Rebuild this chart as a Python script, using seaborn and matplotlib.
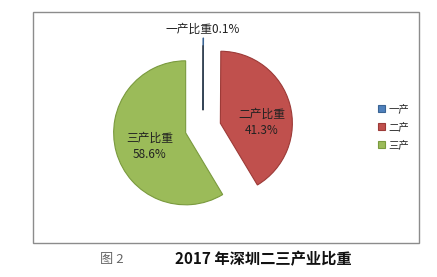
import matplotlib
matplotlib.use("Agg")
import matplotlib.pyplot as plt
import seaborn as sns
from matplotlib.patches import Rectangle

# data
categories = ["一产", "二产", "三产"]
values = [0.1, 41.3, 58.6]
slice_labels = ["一产比重", "二产比重", "三产比重"]
colors = ["#4F81BD", "#C0504D", "#9BBB59"]
edges = ["#3A6494", "#9C3A37", "#7A9A3E"]
caption_left = "图 2"
caption_title = "2017 年深圳二三产业比重"

sns.set_theme(style="white")
plt.rcParams['font.family'] = ['Noto Sans CJK SC', 'DejaVu Sans']

W, H = 437, 277
fig = plt.figure(figsize=(W / 100, H / 100), dpi=100)
fig.patch.set_facecolor("white")

# chart frame
fig.patches.append(Rectangle((33 / W, 1 - 243 / H), (419 - 33) / W, (243 - 12) / H,
                             transform=fig.transFigure, fill=False,
                             edgecolor="#8c8c8c", linewidth=1.0))

# pie axes: centre at (203,128) px, radius 72 px
R = 72
half = 1.6
cx, cy = 203, 128
ax = fig.add_axes([(cx - half * R) / W, (H - cy - half * R) / H, 2 * half * R / W, 2 * half * R / H])

total = sum(values)

def fmt(p):
    for lab, v in zip(slice_labels, values):
        if abs(v / total * 100 - p) < 0.05 and v >= 1:
            return f"{lab}\n{v:.1f}%"
    return ""

wedges, texts, autotexts = ax.pie(values, colors=colors, startangle=90, counterclock=False,
                                  explode=[0.25, 0.25, 0.25], autopct=fmt, pctdistance=0.58,
                                  wedgeprops=dict(linewidth=0.8),
                                  textprops=dict(fontsize=8.5, color="#222222"))
ax.set_xlim(-half, half)
ax.set_ylim(-half, half)
ax.set_aspect("equal")
ax.axis("off")
for w, e in zip(wedges, edges):
    w.set_edgecolor(e)
label_pos = [None, (0.82, 0.08), (-0.74, -0.26)]
for t, pos in zip(autotexts, label_pos):
    t.set_linespacing(1.3)
    if pos is not None:
        t.set_position(pos)

# label for the tiny slice with leader line
ax.annotate(f"{slice_labels[0]}{values[0]:.1f}%", xy=(0, 0.25), xytext=(0, 1.375),
            ha="center", va="center", fontsize=8.5, color="#222222",
            arrowprops=dict(arrowstyle="-", color="#333333", lw=0.9, shrinkA=5, shrinkB=0))

# legend
fig.legend(wedges, categories, loc="center left", bbox_to_anchor=(374 / W, 1 - 127 / H),
           frameon=False, fontsize=7.5, handlelength=0.7, handleheight=0.7,
           handletextpad=0.3, labelspacing=0.75, borderaxespad=0)

# caption
fig.text(100 / W, 1 - 259 / H, caption_left, ha="left", va="center", fontsize=9.5, color="#666666")
fig.text(175 / W, 1 - 259 / H, caption_title, ha="left", va="center", fontsize=11,
         color="#111111", fontweight="bold")

fig.savefig("out.png", dpi=100)
